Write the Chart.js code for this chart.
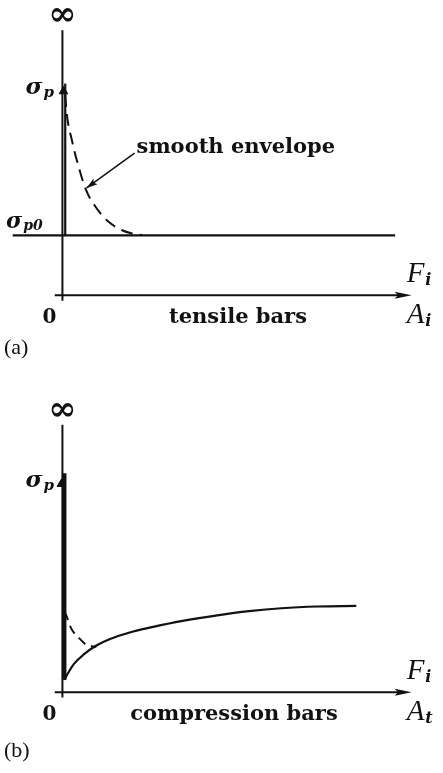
<!DOCTYPE html>
<html>
<head>
<meta charset="utf-8">
<script src="https://cdn.jsdelivr.net/npm/chart.js@4.4.1/dist/chart.umd.min.js"></script>
<style>
  html, body { margin: 0; padding: 0; background: #fff; }
  #wrap { position: relative; width: 443px; height: 773px; overflow: hidden; }
  canvas { position: absolute; left: 0; }
  #chartA { top: 0; }
  #chartB { top: 370px; }
</style>
</head>
<body>
<div id="wrap">
  <canvas id="chartA" width="443" height="370"></canvas>
  <canvas id="chartB" width="443" height="403"></canvas>
</div>
<script>
// (a) tensile bars: permissible stress vs. area
const tensileSpikeArea = 0.08;
const tensileSpikeStress = [1.0, 3.53];
const tensileLevelArea = [-1.42, 9.5];
const tensileLevelStress = [1.0, 1.0];
const tensileEnvArea = [0.08, 0.11, 0.28, 0.47, 0.67, 0.94, 1.31, 1.72, 2.0, 2.28];
const tensileEnvStress = [3.34, 3.10, 2.56, 2.13, 1.76, 1.48, 1.23, 1.08, 1.03, 1.0];
const tensileMarker = [0.03, 3.40];

// (b) compression bars
const compSpikeArea = 0.05;
const compSpikeStress = [0.21, 3.70];
const compArea = [0.06, 0.11, 0.33, 0.61, 0.97, 1.36, 1.92, 2.56, 3.47, 4.42, 5.33, 6.25, 7.28, 8.39];
const compStress = [0.21, 0.27, 0.48, 0.64, 0.79, 0.90, 1.01, 1.10, 1.21, 1.30, 1.37, 1.42, 1.45, 1.46];
const compEnvArea = [0.06, 0.11, 0.25, 0.47, 0.69, 0.97];
const compEnvStress = [1.36, 1.30, 1.08, 0.92, 0.80, 0.77];
const compMarker = [-0.03, 3.52];

const INK = '#111';
const SERIF = '"DejaVu Serif", serif';
const TIMES = '"Liberation Serif", serif';

function pts(xs, ys) {
    return xs.map((x, i) => ({ x: x, y: ys[i] }));
}

function lineSet(data, width, dash) {
    return {
        data: data,
        showLine: true,
        borderColor: INK,
        borderWidth: width,
        borderDash: dash || [],
        pointRadius: 0,
        tension: 0,
        fill: false
    };
}

function curveSet(data, width, dash) {
    const ds = lineSet(data, width, dash);
    ds.cubicInterpolationMode = 'monotone';
    return ds;
}

function markerSet(p) {
    return {
        data: [{ x: p[0], y: p[1] }],
        showLine: false,
        pointStyle: 'triangle',
        pointRadius: 5,
        backgroundColor: INK,
        borderColor: INK,
        borderWidth: 1
    };
}

function arrowHead(ctx, x, y, angle, len, half) {
    ctx.save();
    ctx.translate(x, y);
    ctx.rotate(angle);
    ctx.beginPath();
    ctx.moveTo(0, 0);
    ctx.lineTo(-len, -half);
    ctx.lineTo(-len * 0.8, 0);
    ctx.lineTo(-len, half);
    ctx.closePath();
    ctx.fill();
    ctx.restore();
}

// symbol with a subscript, e.g. sigma_p0, F_i
function subText(ctx, main, sub, x, y, mainFont, subFont, drop) {
    ctx.font = mainFont;
    ctx.fillText(main, x, y);
    const w = ctx.measureText(main).width;
    ctx.font = subFont;
    ctx.fillText(sub, x + w + 1, y + drop);
}

// axes, arrows and labels, placed through the chart's own scales
function axesPlugin(cfg) {
    return {
        id: 'axes',
        afterDatasetsDraw(chart) {
            const ctx = chart.ctx;
            const sx = chart.scales.x, sy = chart.scales.y;
            const x0 = sx.getPixelForValue(0);
            const y0 = sy.getPixelForValue(0);
            const yTop = sy.getPixelForValue(cfg.axisTop);
            const xEnd = sx.getPixelForValue(cfg.axisEnd);
            ctx.save();
            ctx.strokeStyle = INK;
            ctx.fillStyle = INK;
            ctx.lineWidth = 2;
            ctx.beginPath();
            ctx.moveTo(x0, yTop);
            ctx.lineTo(x0, sy.getPixelForValue(-0.09));
            ctx.moveTo(sx.getPixelForValue(-0.22), y0);
            ctx.lineTo(xEnd - 8, y0);
            ctx.stroke();
            arrowHead(ctx, xEnd, y0, 0, 17, 3.5);

            ctx.textBaseline = 'alphabetic';
            ctx.textAlign = 'center';
            ctx.font = 'bold 34px ' + SERIF;
            ctx.fillText('\u221E', x0, yTop - 5);

            const ys = sy.getPixelForValue(cfg.sigmaP);
            ctx.textAlign = 'left';
            subText(ctx, '\u03C3', 'p', x0 - 37, ys + 3,
                'bold italic 23px ' + SERIF, 'bold italic 15px ' + SERIF, 3);
            if (cfg.sigmaP0 !== undefined) {
                const y1 = sy.getPixelForValue(cfg.sigmaP0);
                subText(ctx, '\u03C3', 'p0', 6, y1 - 7,
                    'bold italic 22px ' + SERIF, 'bold italic 14px ' + SERIF, 2);
            }

            ctx.font = 'bold 20px ' + SERIF;
            ctx.textAlign = 'center';
            ctx.fillText('0', x0 - 13, y0 + 28);
            ctx.font = 'bold 21px ' + SERIF;
            ctx.fillText(cfg.barLabel, cfg.barLabelX, y0 + 28);

            ctx.textAlign = 'left';
            subText(ctx, 'F', 'i', xEnd - 5, y0 - 13,
                'italic 29px ' + TIMES, 'bold italic 16px ' + SERIF, 3);
            subText(ctx, 'A', cfg.areaSub, xEnd - 5, y0 + 28,
                'italic 29px ' + TIMES, 'bold italic 16px ' + SERIF, 3);

            ctx.font = '22px ' + TIMES;
            ctx.fillText(cfg.panel, 4, y0 + cfg.panelDrop);

            if (cfg.note) {
                const tip = { x: sx.getPixelForValue(cfg.note.tip[0]), y: sy.getPixelForValue(cfg.note.tip[1]) };
                const tail = { x: sx.getPixelForValue(cfg.note.tail[0]), y: sy.getPixelForValue(cfg.note.tail[1]) };
                ctx.lineWidth = 1.5;
                ctx.beginPath();
                ctx.moveTo(tail.x, tail.y);
                ctx.lineTo(tip.x, tip.y);
                ctx.stroke();
                arrowHead(ctx, tip.x, tip.y, Math.atan2(tip.y - tail.y, tip.x - tail.x), 11, 3.5);
                ctx.font = 'bold 21px ' + SERIF;
                ctx.fillText(cfg.note.text, tail.x + 2, tail.y);
            }
            ctx.restore();
        }
    };
}

function makeChart(id, datasets, yMin, yMax, cfg) {
    return new Chart(document.getElementById(id).getContext('2d'), {
        type: 'scatter',
        data: { datasets: datasets },
        options: {
            responsive: false,
            animation: false,
            devicePixelRatio: 1,
            layout: { padding: 0 },
            scales: {
                x: { type: 'linear', display: false, min: -58 / 36, max: 385 / 36 },
                y: { type: 'linear', display: false, min: yMin, max: yMax }
            },
            plugins: {
                legend: { display: false },
                tooltip: { enabled: false }
            }
        },
        plugins: [axesPlugin(cfg)]
    });
}

makeChart('chartA', [
    lineSet(pts(tensileLevelArea, tensileLevelStress), 2.2),
    lineSet(pts([tensileSpikeArea, tensileSpikeArea], tensileSpikeStress), 2.2),
    curveSet(pts(tensileEnvArea, tensileEnvStress), 2, [12, 7]),
    markerSet(tensileMarker)
], -71 / 62, 299 / 62, {
    axisTop: 4.42,
    axisEnd: 9.97,
    sigmaP: tensileMarker[1],
    sigmaP0: tensileLevelStress[0],
    barLabel: 'tensile bars',
    barLabelX: 238,
    areaSub: 'i',
    panel: '(a)',
    panelDrop: 59,
    note: { text: 'smooth envelope', tip: [0.69, 1.79], tail: [2.06, 2.37] }
});

makeChart('chartB', [
    lineSet(pts([compSpikeArea, compSpikeArea], compSpikeStress), 4.5),
    curveSet(pts(compArea, compStress), 2.2),
    curveSet(pts(compEnvArea, compEnvStress), 2, [9, 6]),
    markerSet(compMarker)
], -77 / 61, 326 / 61, {
    axisTop: 4.52,
    axisEnd: 9.97,
    sigmaP: compMarker[1],
    barLabel: 'compression bars',
    barLabelX: 234,
    areaSub: 't',
    panel: '(b)',
    panelDrop: 65
});
</script>
</body>
</html>
